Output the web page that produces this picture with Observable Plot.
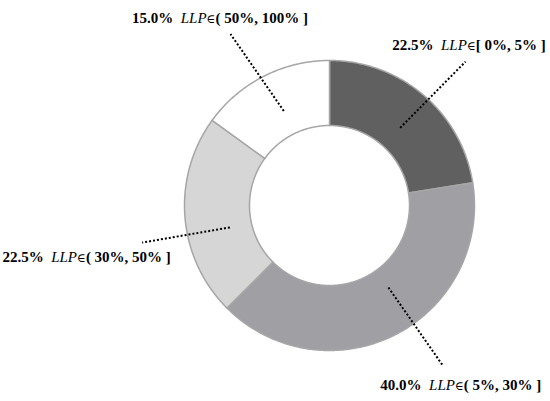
<!DOCTYPE html>
<html><head><meta charset="utf-8">
<script src="https://cdn.jsdelivr.net/npm/d3@7"></script>
<script src="https://cdn.jsdelivr.net/npm/@observablehq/plot@0.6"></script>
<style>
html,body{margin:0;padding:0;background:#fff;}
#chart{position:relative;width:550px;height:401px;overflow:hidden;}
.lbl{position:absolute;font-family:"Liberation Serif","Times New Roman",serif;font-size:15px;font-weight:bold;white-space:pre;color:#000;transform:translate(-50%,-50%);line-height:1;}
.lbl i{font-weight:normal;}
.lbl .in{font-weight:normal;font-family:"DejaVu Serif",serif;font-size:12px;}
</style></head><body><div id="chart"></div>
<script>
// ---- data ----
const shares = [22.5, 40.0, 22.5, 15.0];
const ranges = ["[ 0%, 5% ]", "( 5%, 30% ]", "( 30%, 50% ]", "( 50%, 100% ]"];
const variable = "LLP";

// ---- style / layout ----
const palette = ["#606060", "#a09fa4", "#d6d6d6", "#ffffff"];
const W = 550, H = 401, cx = 329, cy = 205, R = 145, r0 = 80;
// leader layout: angle nudges (deg) at inner/outer end, radii, label offset (px)
const leaderLayout = [
  {a1: 1.8, a2: 2.9, r1: 105, r2: 198, dx: 4, dy: -16},
  {a1: -8.7, a2: -8.3, r1: 101, r2: 197, dx: 18, dy: 19},
  {a1: -7.9, a2: -6.7, r1: 102, r2: 191, dx: -55, dy: 15},
  {a1: 1.2, a2: -3, r1: 105, r2: 198, dx: -10, dy: -16}
];

const arcs = d3.pie().sort(null).value(d => d)(shares);
const toXY = (a, r) => ({x: r * Math.sin(a), y: r * Math.cos(a)});

const slicePts = arcs.map((arc, i) => {
  const n = Math.max(8, Math.ceil((arc.endAngle - arc.startAngle) / 0.01));
  const pts = [];
  for (let k = 0; k <= n; k++) pts.push(toXY(arc.startAngle + (arc.endAngle - arc.startAngle) * k / n, R));
  for (let k = n; k >= 0; k--) pts.push(toXY(arc.startAngle + (arc.endAngle - arc.startAngle) * k / n, r0));
  pts.push(pts[0]);
  return pts;
});

const deg = Math.PI / 180;
const leaders = arcs.map((arc, i) => {
  const mid = (arc.startAngle + arc.endAngle) / 2;
  const L = leaderLayout[i];
  const p1 = toXY(mid + L.a1 * deg, L.r1), p2 = toXY(mid + L.a2 * deg, L.r2);
  return {x1: p1.x, y1: p1.y, x2: p2.x, y2: p2.y, i};
});

const plot = Plot.plot({
  width: W, height: H, margin: 0,
  x: {domain: [-cx, W - cx], axis: null},
  y: {domain: [-(H - cy), cy], axis: null},
  marks: [
    ...slicePts.map((pts, i) => Plot.line(pts, {x: "x", y: "y", fill: palette[i], stroke: "#a6a6a6", strokeWidth: 1.5, curve: "linear"})),
    Plot.link(leaders, {x1: "x1", y1: "y1", x2: "x2", y2: "y2", stroke: "#000", strokeWidth: 2, strokeDasharray: "2,2"})
  ]
});
const chart = document.getElementById("chart");
chart.appendChild(plot);

const sx = plot.scale("x"), sy = plot.scale("y");
leaders.forEach((l, i) => {
  const L = leaderLayout[i];
  const div = document.createElement("div");
  div.className = "lbl";
  div.innerHTML = `${shares[i].toFixed(1)}%  <i>${variable}</i><span class="in">∈</span>${ranges[i]}`;
  div.style.left = (sx.apply(l.x2) + L.dx) + "px";
  div.style.top = (sy.apply(l.y2) + L.dy) + "px";
  chart.appendChild(div);
});
</script></body></html>
